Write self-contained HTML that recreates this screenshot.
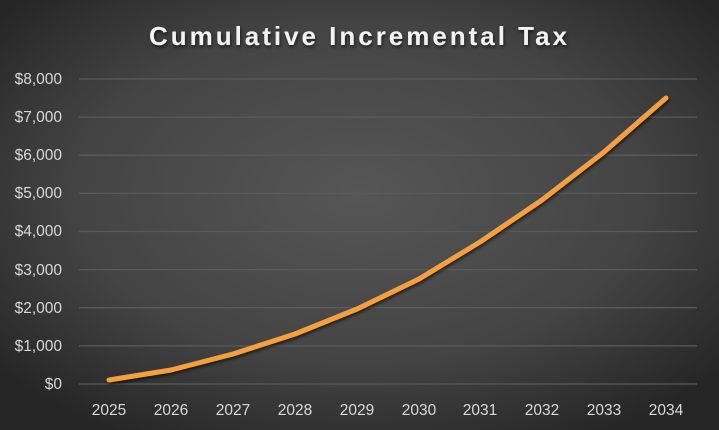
<!DOCTYPE html>
<html><head><style>
html,body{margin:0;padding:0;width:719px;height:430px;overflow:hidden;background:#3a3a3a}
</style></head><body>
<svg width="719" height="430" xmlns="http://www.w3.org/2000/svg">
<defs>
<radialGradient id="bg" cx="50%" cy="45%" r="65%">
<stop offset="0" stop-color="#565656"/>
<stop offset="0.6" stop-color="#444444"/>
<stop offset="1" stop-color="#262626"/>
</radialGradient>
<filter id="sh" x="-10%" y="-10%" width="120%" height="130%"><feDropShadow dx="1" dy="2" stdDeviation="1.5" flood-color="#000" flood-opacity="0.6"/></filter>
</defs>
<rect width="719" height="430" fill="url(#bg)"/>
<text x="358" y="45" text-anchor="middle" font-family="Liberation Sans, sans-serif" font-weight="bold" font-size="26" fill="#f2f2f2" textLength="418" lengthAdjust="spacing" filter="url(#sh)">Cumulative Incremental Tax</text>
<g stroke="#5a5a5a" stroke-width="1.3">
<line x1="79" x2="697" y1="79" y2="79"/><line x1="79" x2="697" y1="117.1" y2="117.1"/>
<line x1="79" x2="697" y1="155.2" y2="155.2"/><line x1="79" x2="697" y1="193.4" y2="193.4"/>
<line x1="79" x2="697" y1="231.5" y2="231.5"/><line x1="79" x2="697" y1="269.6" y2="269.6"/>
<line x1="79" x2="697" y1="307.7" y2="307.7"/><line x1="79" x2="697" y1="345.9" y2="345.9"/>
<line x1="79" x2="697" y1="384" y2="384"/>
</g>
<g font-family="Liberation Sans, sans-serif" font-size="15.5" fill="#d9d9d9" text-anchor="end">
<text x="62" y="84">$8,000</text><text x="62" y="122">$7,000</text><text x="62" y="160">$6,000</text>
<text x="62" y="198">$5,000</text><text x="62" y="236">$4,000</text><text x="62" y="275">$3,000</text>
<text x="62" y="313">$2,000</text><text x="62" y="351">$1,000</text><text x="62" y="389">$0</text>
</g>
<g font-family="Liberation Sans, sans-serif" font-size="15.5" fill="#d9d9d9" text-anchor="middle">
<text x="109" y="415">2025</text><text x="171" y="415">2026</text><text x="233" y="415">2027</text>
<text x="295" y="415">2028</text><text x="357" y="415">2029</text><text x="419" y="415">2030</text>
<text x="480" y="415">2031</text><text x="542" y="415">2032</text><text x="604" y="415">2033</text>
<text x="666" y="415">2034</text>
</g>
<polyline filter="url(#sh)" fill="none" stroke="#f5a03d" stroke-width="5" stroke-linecap="round" stroke-linejoin="round"
points="109,380 171,370 233,354 295,334 357,309 419,279 480,242 542,200 604,152 666,98"/>
</svg>
</body></html>
